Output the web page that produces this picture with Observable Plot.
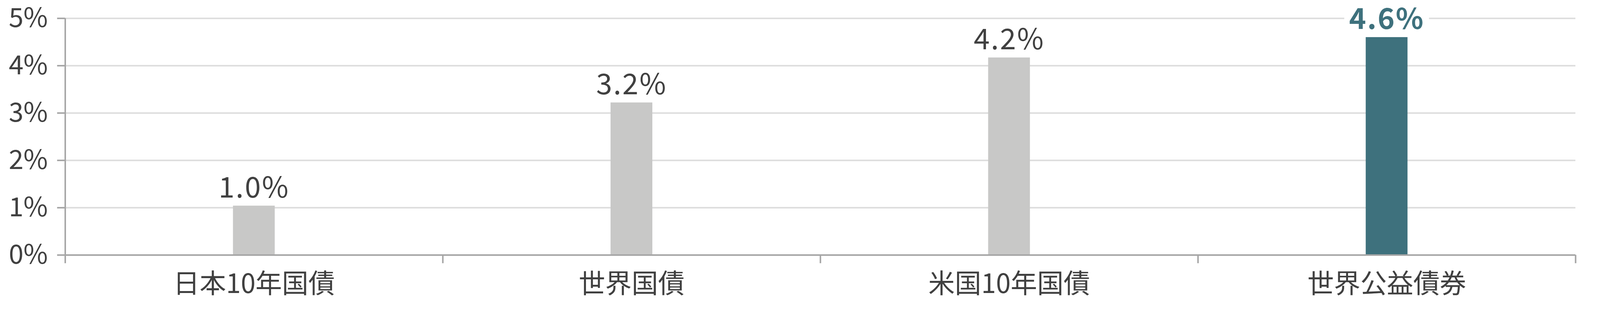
<!DOCTYPE html>
<html>
<head>
<meta charset="utf-8">
<script src="https://cdn.jsdelivr.net/npm/d3@7"></script>
<script src="https://cdn.jsdelivr.net/npm/@observablehq/plot@0.6"></script>
<style>
  html, body { margin: 0; padding: 0; background: #ffffff; overflow: hidden; }
  #chart svg { display: block; width: 100%; height: auto; }
  #chart g[aria-label="text"] text { letter-spacing: 3px; }
</style>
</head>
<body>
<div id="chart"></div>
<script>
const categories = ["日本10年国債", "世界国債", "米国10年国債", "世界公益債券"];
const values = [1.04, 3.22, 4.17, 4.60];
const valueLabels = ["1.0%", "3.2%", "4.2%", "4.6%"];
const highlight = [false, false, false, true];
const yTicks = [0, 1, 2, 3, 4, 5];

const data = categories.map((c, i) => ({
  i, category: c, value: values[i], label: valueLabels[i], highlight: highlight[i]
}));
const plain = data.filter(d => !d.highlight);
const hi = data.filter(d => d.highlight);

const GREY = "#c8c8c7";
const TEAL = "#3e717d";
const TEXT = "#404040";
const AXIS = "#a6a6a6";
const GRID = "#dedede";
const FONT = "'Noto Sans CJK JP', 'Noto Sans', sans-serif";

const labelOpts = {
  x: d => d.i + 0.5, y: "value", text: "label",
  lineAnchor: "bottom", dy: -22, fontSize: 76
};

const chart = Plot.plot({
  width: 4231,
  height: 818,
  marginLeft: 172,
  marginRight: 65,
  marginTop: 48,
  marginBottom: 145,
  style: { fontFamily: FONT, background: "#ffffff", color: TEXT, overflow: "visible" },
  x: { type: "linear", domain: [0, categories.length] },
  y: { domain: [0, 5] },
  marks: [
    Plot.ruleY(yTicks.filter(t => t > 0), { stroke: GRID, strokeWidth: 4 }),
    Plot.rectY(data, {
      x1: d => d.i, x2: d => d.i + 1, y1: 0, y2: "value",
      fill: d => d.highlight ? TEAL : GREY,
      insetLeft: 444, insetRight: 444
    }),
    Plot.rect(data, {
      x1: d => d.i + 0.5, x2: d => d.i + 0.5, y1: "value", y2: "value",
      insetLeft: -112, insetRight: -112, insetTop: -88, insetBottom: 20,
      fill: "#ffffff"
    }),
    Plot.text(plain, { ...labelOpts, fill: TEXT, fontWeight: 400 }),
    Plot.text(hi, { ...labelOpts, fill: TEAL, fontWeight: 700 }),
    Plot.axisY({
      ticks: yTicks, tickFormat: d => d + "%", tickSize: 21, tickPadding: 25,
      stroke: AXIS, strokeWidth: 4, fontSize: 70, fill: TEXT, label: null
    }),
    Plot.ruleX([0], { y1: 0, y2: 5, stroke: AXIS, strokeWidth: 4 }),
    Plot.ruleY([0], { stroke: AXIS, strokeWidth: 4 }),
    Plot.axisX({
      ticks: d3.range(categories.length + 1), tickFormat: () => "",
      tickSize: 22, stroke: AXIS, strokeWidth: 4, label: null
    }),
    Plot.axisX({
      ticks: categories.map((c, i) => i + 0.5),
      tickFormat: t => categories[Math.floor(t)],
      tickSize: 0, tickPadding: 50, fontSize: 70, fill: TEXT, label: null
    })
  ]
});

document.getElementById("chart").appendChild(chart);
</script>
</body>
</html>
